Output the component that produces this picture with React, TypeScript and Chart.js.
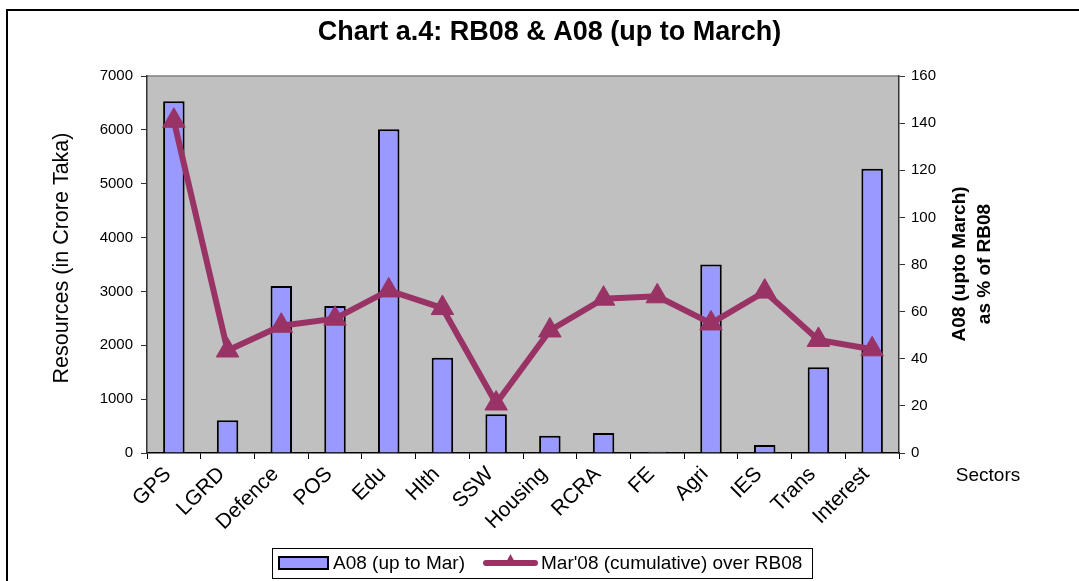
import React, { useEffect, useRef } from "react";
import { Chart, registerables } from "chart.js";

Chart.register(...registerables);

const categories = ["GPS", "LGRD", "Defence", "POS", "Edu", "Hlth", "SSW", "Housing", "RCRA", "FE", "Agri", "IES", "Trans", "Interest"];
const a08Values = [6530, 610, 3100, 2730, 6010, 1770, 720, 320, 370, 25, 3500, 150, 1590, 5280];
const pctValues = [141, 43.5, 54, 57, 69, 61.5, 21, 52, 65.5, 66.5, 55, 68.5, 48, 44];
const leftAxisRange = [0, 7000, 1000];
const rightAxisRange = [0, 160, 20];

const chartTitle = "Chart a.4: RB08 & A08 (up to March)";
const leftAxisTitle = "Resources (in Crore Taka)";
const rightAxisTitle = ["A08 (upto March)", "as % of RB08"];
const xAxisTitle = "Sectors";
const barLabel = "A08 (up to Mar)";
const lineLabel = "Mar'08 (cumulative) over RB08";

const FONT = "'Liberation Sans', Arial, Helvetica, sans-serif";
const BAR_FILL = "#9999FF";
const LINE_COLOR = "#993366";

const decorPlugin = {
  id: "decor",
  beforeDraw(chart: any) {
    const { ctx, chartArea: a } = chart;
    ctx.save();
    ctx.fillStyle = "#ffffff";
    ctx.fillRect(0, 0, chart.width, chart.height);
    ctx.fillStyle = "#C0C0C0";
    ctx.fillRect(a.left, a.top, a.right - a.left, a.bottom - a.top);
    ctx.strokeStyle = "#808080";
    ctx.lineWidth = 1.5;
    ctx.beginPath();
    ctx.moveTo(a.left, a.top);
    ctx.lineTo(a.right, a.top);
    ctx.stroke();
    ctx.restore();
  },
  afterDraw(chart: any) {
    const { ctx } = chart;
    ctx.save();
    // outer frame
    ctx.strokeStyle = "#000";
    ctx.lineWidth = 2;
    ctx.beginPath();
    ctx.moveTo(7, chart.height);
    ctx.lineTo(7, 10);
    ctx.lineTo(chart.width, 10);
    ctx.stroke();

    ctx.fillStyle = "#000";
    ctx.textBaseline = "middle";
    // title
    ctx.font = `bold 27px ${FONT}`;
    ctx.textAlign = "center";
    ctx.fillText(chartTitle, 549.5, 33);

    // left axis title
    ctx.save();
    ctx.translate(62, 258);
    ctx.rotate(-Math.PI / 2);
    ctx.font = `21.5px ${FONT}`;
    ctx.fillText(leftAxisTitle, 0, 0);
    ctx.restore();

    // right axis title
    ctx.save();
    ctx.translate(972, 264);
    ctx.rotate(-Math.PI / 2);
    ctx.font = `bold 19px ${FONT}`;
    ctx.fillText(rightAxisTitle[0], 0, -12);
    ctx.fillText(rightAxisTitle[1], 0, 13);
    ctx.restore();

    // x axis title
    ctx.font = `19px ${FONT}`;
    ctx.textAlign = "center";
    ctx.fillText(xAxisTitle, 988, 476);

    // legend
    ctx.lineWidth = 1;
    ctx.strokeStyle = "#000";
    ctx.strokeRect(272.5, 548.5, 540, 30);
    ctx.fillStyle = BAR_FILL;
    ctx.fillRect(279, 557, 49, 12);
    ctx.lineWidth = 2;
    ctx.strokeRect(279, 557, 49, 12);
    ctx.fillStyle = "#000";
    ctx.font = `19px ${FONT}`;
    ctx.textAlign = "left";
    ctx.fillText(barLabel, 333, 564);
    ctx.strokeStyle = LINE_COLOR;
    ctx.lineWidth = 6;
    ctx.lineCap = "round";
    ctx.beginPath();
    ctx.moveTo(486, 563);
    ctx.lineTo(535, 563);
    ctx.stroke();
    ctx.fillStyle = LINE_COLOR;
    ctx.beginPath();
    ctx.moveTo(510.5, 554);
    ctx.lineTo(517, 566);
    ctx.lineTo(504, 566);
    ctx.closePath();
    ctx.fill();
    ctx.fillStyle = "#000";
    ctx.fillText(lineLabel, 541, 564);
    ctx.restore();
  },
};

export default function App() {
  const ref = useRef<HTMLCanvasElement | null>(null);

  useEffect(() => {
    if (!ref.current) return;
    const chart = new Chart(ref.current, {
      type: "bar",
      data: {
        labels: categories,
        datasets: [
          {
            type: "line",
            label: lineLabel,
            data: pctValues,
            yAxisID: "y1",
            borderColor: LINE_COLOR,
            borderWidth: 6,
            pointStyle: "triangle",
            pointRadius: 13,
            pointBackgroundColor: LINE_COLOR,
            pointBorderColor: LINE_COLOR,
            pointBorderWidth: 1,
            tension: 0,
            order: 1,
          } as any,
          {
            type: "bar",
            label: barLabel,
            data: a08Values,
            yAxisID: "y",
            backgroundColor: BAR_FILL,
            borderColor: "#000",
            borderWidth: 2,
            categoryPercentage: 1,
            barPercentage: 0.4,
            order: 2,
          } as any,
        ],
      },
      options: {
        responsive: false,
        animation: false,
        devicePixelRatio: 1,
        layout: { padding: { left: 20, top: 76, right: 0, bottom: 0 } },
        plugins: {
          legend: { display: false },
          title: { display: false },
          tooltip: { enabled: false },
        },
        scales: {
          x: {
            offset: true,
            grid: { offset: true, drawOnChartArea: false, drawTicks: true, tickLength: 6, color: "#000" },
            border: { color: "#000", width: 1.5 },
            ticks: {
              autoSkip: false,
              maxRotation: 45,
              minRotation: 45,
              padding: 3,
              labelOffset: -6,
              color: "#000",
              font: { family: FONT, size: 21 },
            },
            afterFit(s: any) {
              s.height = 128;
            },
          },
          y: {
            position: "left",
            min: leftAxisRange[0],
            max: leftAxisRange[1],
            ticks: {
              stepSize: leftAxisRange[2],
              padding: 8,
              color: "#000",
              font: { family: FONT, size: 15 },
              callback: (v: any) => String(v),
            },
            grid: { drawOnChartArea: false, tickLength: 6, color: "#333" },
            border: { color: "#333", width: 1.5 },
            afterFit(s: any) {
              s.width = 127;
            },
          },
          y1: {
            position: "right",
            min: rightAxisRange[0],
            max: rightAxisRange[1],
            ticks: {
              stepSize: rightAxisRange[2],
              padding: 6,
              color: "#000",
              font: { family: FONT, size: 15 },
              callback: (v: any) => String(v),
            },
            grid: { drawOnChartArea: false, tickLength: 6, color: "#333" },
            border: { color: "#333", width: 1.5 },
            afterFit(s: any) {
              s.width = 180;
            },
          },
        },
      } as any,
      plugins: [decorPlugin],
    });
    return () => chart.destroy();
  }, []);

  return (
    <div style={{ position: "fixed", left: 0, top: 0, width: 1079, height: 581 }}>
      <canvas ref={ref} width={1079} height={581} style={{ display: "block" }} />
    </div>
  );
}
